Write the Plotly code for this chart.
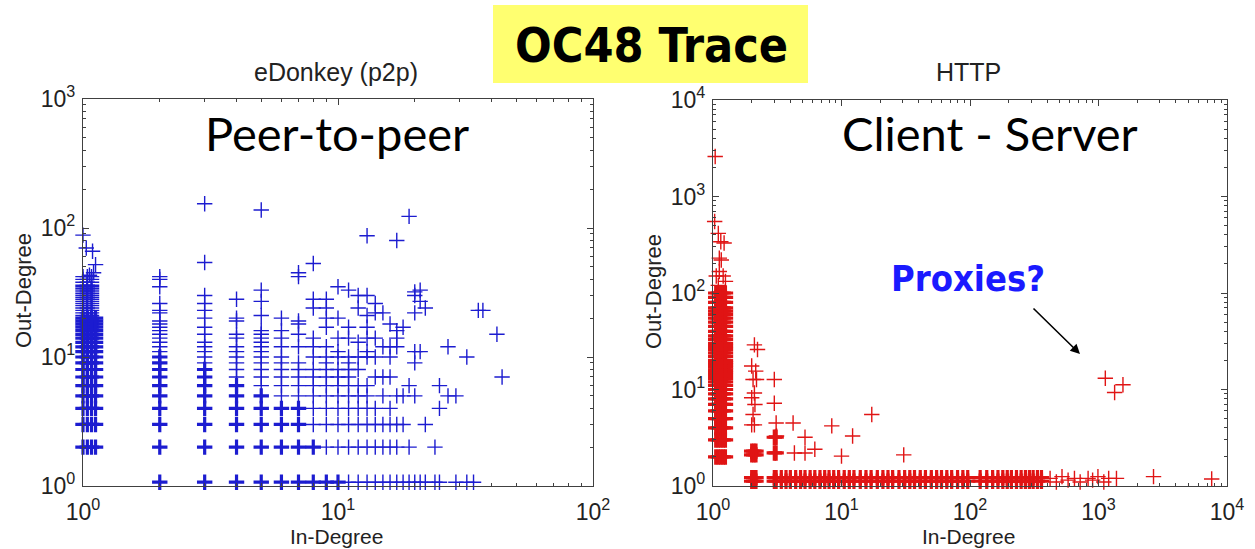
import plotly.graph_objects as go

# ---------------- eDonkey (p2p) : in-degree vs out-degree ----------------
# In-degree 1 column (spread slightly along x in the original plot)
P2P_C1_IN = [1.0, 1.04, 1.08, 1.12]
P2P_C1_OUT_HEAVY = [2, 3, 4, 5, 6, 7, 8, 9, 10, 11, 12, 13, 14, 15, 16, 17, 18, 19, 20]
P2P_C1_OUT_LIGHT = [21, 22, 23, 24, 25, 26, 27, 28, 29, 30, 31, 32, 33, 34, 35,
                    36, 38, 40, 42]
P2P_C1_EXTRA_IN = [1.0, 1.09, 1.12, 1.1, 1.06, 1.03]
P2P_C1_EXTRA_OUT = [88, 66, 52, 45, 43, 70]

# Other in-degree columns
P2P_IN = [2, 3, 4, 5, 6, 7, 8, 9, 10, 11, 12, 13, 14, 15, 16, 17, 18, 19, 20,
          21, 22, 24, 25, 27, 29, 32, 34, 35.5, 37, 42, 44]
P2P_OUT_HEAVY = [
    [1.07, 2, 3, 4, 5, 6, 7, 8, 9, 10],   # 2
    [1.07, 2, 3, 4, 5, 6, 7, 8],          # 3
    [1.07, 2, 3, 4, 5, 6],                # 4
    [1.07, 2, 3, 4, 5],                   # 5
    [1.07, 2, 3, 4],                      # 6
    [1.07, 2, 3, 4],                      # 7
    [1.07, 2],                            # 8
    [1.07], [1.07], [], [], [], [], [], [], [], [], [], [],
    [], [], [], [], [], [], [], [], [], [], [], [],
]
P2P_OUT_LIGHT = [
    [11, 12, 13, 14, 15, 16, 17, 18, 19, 22, 23, 26, 35, 40, 42],  # 2
    [9, 10, 11, 12, 13, 15, 17, 20, 23, 26, 30, 54, 154],         # 3
    [7, 8, 9, 10, 11, 12, 14, 15, 19, 20, 28],                    # 4
    [6, 7, 8, 9, 10, 11, 12, 13, 14, 15, 16, 21, 27, 33, 138],    # 5
    [5, 6, 7, 8, 9, 10, 12, 14, 16, 20],                          # 6
    [5, 6, 7, 8, 9, 12, 15, 18, 19, 42, 45],                      # 7
    [3, 4, 5, 6, 7, 8, 10, 12, 14, 24, 28, 53],                   # 8
    [2, 3, 4, 5, 6, 7, 8, 9, 10, 12, 17, 20, 24, 28],             # 9
    [2, 3, 4, 5, 6, 7, 8, 10, 11, 14, 20, 35],                    # 10
    [1.07, 2, 3, 4, 5, 6, 7, 8, 9, 10, 14, 17, 33],               # 11
    [1.07, 2, 3, 4, 5, 6, 8, 10, 13, 24, 30],                     # 12
    [1.07, 2, 3, 4, 5, 6, 10, 11, 14, 17, 21, 30, 87],            # 13
    [1.07, 2, 3, 4, 7, 10, 14, 22, 26],                           # 14
    [1.07, 2, 3, 5, 7, 12, 22],                                   # 15
    [1.07, 2, 3, 4, 7, 10, 12, 18],                               # 16
    [1.07, 2, 3, 5, 12, 14, 16, 80],                              # 17
    [1.07, 3, 5, 17],                                             # 18
    [1.07, 2, 6, 123],                                            # 19
    [1.07, 5, 9, 11, 22, 30, 32],                                 # 20
    [1.07, 11, 27, 33],                                           # 21
    [1.07, 3, 24],                                                # 22
    [1.07, 2],                                                    # 24
    [1.07, 4, 6],                                                 # 25
    [5, 12],                                                      # 27
    [1.07, 5],                                                    # 29
    [1.07, 10],                                                   # 32
    [1.07],                                                       # 34
    [23],                                                         # 35.5
    [23],                                                         # 37
    [15],                                                         # 42
    [7],                                                          # 44
]

# ---------------- HTTP : in-degree vs out-degree ----------------
HTTP_C1_IN = [1.05, 1.1, 1.15, 1.2, 1.25]
HTTP_C1_OUT_HEAVY = [2, 3, 4, 5, 6, 7, 8, 9, 10, 11, 12, 13, 14, 15, 16, 17, 18,
                     19, 20, 22, 24, 26, 28, 30, 33, 36, 40, 45, 50, 55, 60, 65,
                     70, 80, 90, 100]
HTTP_C1_EXTRA_IN = [1.04, 1.03, 1.1, 1.15, 1.22, 1.12, 1.16, 1.12, 1.25, 1.06, 1.2, 1.1]
HTTP_C1_EXTRA_OUT = [2600, 550, 415, 340, 330, 230, 220, 167, 132, 150, 150, 120]

HTTP_C2_IN = [2.0, 2.08, 2.16]
HTTP_C2_OUT_HEAVY = [1.12, 1.22, 2.1, 2.3]
HTTP_C3_IN = [3.0, 3.1]
HTTP_C3_OUT_HEAVY = [1.12, 1.22, 2.2, 3.2]

HTTP_ROW_IN = [3.4, 3.7, 4, 4.4, 4.8, 5.2, 5.7, 6.2, 6.8, 7.4, 8, 8.7, 9.5,
               10.5, 11.5, 12.5, 14, 15.5, 17, 19, 21, 23, 25, 28, 31, 34, 37,
               41, 45, 50, 55, 60, 66, 72, 80, 88, 96, 120, 135, 150, 165, 180,
               195, 210, 230, 250, 270, 290, 310, 335, 360]
HTTP_ROW_OUT = [1.12, 1.22]

HTTP_LIGHT_IN = [2.0, 2.1, 2.05, 2.12, 2.0, 2.1, 2.05, 2.15, 2.0, 2.22, 2.1, 2.18,
                 3.1, 3.0, 3.0, 3.12,
                 4.2, 4.3, 5.2, 5.2, 6.2, 8.4, 10.0, 12.2, 17.2, 30.5,
                 1130, 1335, 1550,
                 420, 470, 520, 580, 650, 720, 830, 900, 990, 1100, 1200, 1380,
                 2680, 7600]
HTTP_LIGHT_OUT = [4.3, 4.3, 5.5, 7.0, 8.2, 9.2, 12.7, 15.5, 17.5, 26, 29, 12.7,
                  4.5, 7.2, 12.7, 3.3,
                  4.5, 2.2, 3.2, 2.2, 2.4, 4.2, 2.04, 3.3, 5.5, 2.1,
                  13.1, 9.3, 11.2,
                  1.2, 1.1, 1.25, 1.15, 1.2, 1.1, 1.2, 1.15, 1.25, 1.1, 1.2, 1.2,
                  1.25, 1.18]

TICK_P2P_X = [1, 10, 100]
TICK_P2P_X_TEXT = ["10<sup>0</sup>", "10<sup>1</sup>", "10<sup>2</sup>"]
TICK_P2P_Y = [1, 10, 100, 1000]
TICK_P2P_Y_TEXT = ["10<sup>0</sup>", "10<sup>1</sup>", "10<sup>2</sup>", "10<sup>3</sup>"]
TICK_HTTP = [1, 10, 100, 1000, 10000]
TICK_HTTP_TEXT = ["10<sup>0</sup>", "10<sup>1</sup>", "10<sup>2</sup>",
                  "10<sup>3</sup>", "10<sup>4</sup>"]


def expand(xs, ys):
    ox, oy = [], []
    for x in xs:
        for y in ys:
            ox.append(x)
            oy.append(y)
    return ox, oy


def columns(xs, col_lists):
    ox, oy = [], []
    for x, ys in zip(xs, col_lists):
        for y in ys:
            ox.append(x)
            oy.append(y)
    return ox, oy


BLUE = "#1c1cd0"
RED = "#e01414"

# p2p heavy
a_x, a_y = expand(P2P_C1_IN, P2P_C1_OUT_HEAVY)
b_x, b_y = columns(P2P_IN, P2P_OUT_HEAVY)
p2p_hx, p2p_hy = a_x + b_x, a_y + b_y
# p2p light
c_x, c_y = expand(P2P_C1_IN[:3], P2P_C1_OUT_LIGHT)
d_x, d_y = columns(P2P_IN, P2P_OUT_LIGHT)
p2p_lx = c_x + P2P_C1_EXTRA_IN + d_x
p2p_ly = c_y + P2P_C1_EXTRA_OUT + d_y

# http heavy
e_x, e_y = expand(HTTP_C1_IN, HTTP_C1_OUT_HEAVY)
f_x, f_y = expand(HTTP_C2_IN, HTTP_C2_OUT_HEAVY)
g_x, g_y = expand(HTTP_C3_IN, HTTP_C3_OUT_HEAVY)
h_x, h_y = expand(HTTP_ROW_IN, HTTP_ROW_OUT)
http_hx = e_x + f_x + g_x + h_x
http_hy = e_y + f_y + g_y + h_y
http_lx = HTTP_C1_EXTRA_IN + HTTP_LIGHT_IN
http_ly = HTTP_C1_EXTRA_OUT + HTTP_LIGHT_OUT

fig = go.Figure()


def add(xs, ys, color, lw, xa, ya, size=11):
    fig.add_trace(go.Scatter(
        x=xs, y=ys, mode="markers", xaxis=xa, yaxis=ya, cliponaxis=False,
        marker=dict(symbol="cross-thin", size=size, color=color,
                    line=dict(color=color, width=lw)),
        showlegend=False, hoverinfo="skip"))


add(p2p_lx, p2p_ly, BLUE, 1.4, "x", "y")
add(p2p_hx, p2p_hy, BLUE, 3.2, "x", "y")
add(http_lx, http_ly, RED, 1.4, "x2", "y2")
add(http_hx, http_hy, RED, 3.2, "x2", "y2")

W, H = 1255, 549


def px(v):
    return v / W


def py(v):
    return 1 - v / H


def minor_vals(decades):
    return [m * 10 ** k for k in range(decades) for m in range(2, 10)]


AX_COLOR = "#404040"
TICK_FONT = dict(family="Liberation Sans, Arial, sans-serif", size=23, color="#222")
common = dict(type="log", showline=True, linecolor=AX_COLOR, linewidth=1.3,
              mirror="ticks", ticks="inside", ticklen=6, tickcolor=AX_COLOR,
              showgrid=False, zeroline=False, tickfont=TICK_FONT, tickmode="array",
              automargin=False)

fig.update_layout(
    width=W, height=H, margin=dict(l=0, r=0, t=0, b=0),
    paper_bgcolor="white", plot_bgcolor="white",
    xaxis=dict(domain=[px(83), px(593)], range=[0, 2], anchor="y",
               tickvals=TICK_P2P_X, ticktext=TICK_P2P_X_TEXT, ticklabelstandoff=5,
               minor=dict(tickvals=minor_vals(2), ticks="inside", ticklen=3,
                          tickcolor=AX_COLOR), **common),
    yaxis=dict(domain=[py(486), py(99)], range=[0, 3], anchor="x",
               tickvals=TICK_P2P_Y, ticktext=TICK_P2P_Y_TEXT, ticklabelstandoff=2,
               minor=dict(tickvals=minor_vals(3), ticks="inside", ticklen=3,
                          tickcolor=AX_COLOR), **common),
    xaxis2=dict(domain=[px(713), px(1227)], range=[0, 4], anchor="y2",
                tickvals=TICK_HTTP, ticktext=TICK_HTTP_TEXT, ticklabelstandoff=5,
                minor=dict(tickvals=minor_vals(4), ticks="inside", ticklen=3,
                           tickcolor=AX_COLOR), **common),
    yaxis2=dict(domain=[py(486), py(100)], range=[0, 4], anchor="x2",
                tickvals=TICK_HTTP, ticktext=TICK_HTTP_TEXT, ticklabelstandoff=2,
                minor=dict(tickvals=minor_vals(4), ticks="inside", ticklen=3,
                           tickcolor=AX_COLOR), **common),
)

# Title box
fig.add_shape(type="rect", xref="paper", yref="paper",
              x0=px(493), x1=px(808), y0=py(83), y1=py(5),
              fillcolor="#ffff70", line=dict(width=0), layer="below")

LABEL_FONT = dict(family="Liberation Sans, Arial, sans-serif", size=21, color="#222")
BIG_FONT = dict(family="Lato, Calibri, sans-serif", size=47, color="black")

annos = [
    dict(text="<b>OC48 Trace</b>", x=px(651), y=py(45),
         font=dict(family="DejaVu Sans Condensed, DejaVu Sans, sans-serif",
                   size=48, color="black")),
    dict(text="eDonkey (p2p)", x=px(336), y=py(72), font=dict(LABEL_FONT, size=25)),
    dict(text="HTTP", x=px(968), y=py(72), font=dict(LABEL_FONT, size=25)),
    dict(text="Peer-to-peer", x=px(337), y=py(133), font=BIG_FONT),
    dict(text="Client - Server", x=px(990), y=py(133), font=BIG_FONT),
    dict(text="<b>Proxies?</b>", x=px(968), y=py(278),
         font=dict(family="DejaVu Sans Condensed, DejaVu Sans, sans-serif",
                   size=36, color="#1a1aff")),
    dict(text="In-Degree", x=px(337), y=py(536), font=LABEL_FONT),
    dict(text="In-Degree", x=px(968), y=py(536), font=LABEL_FONT),
    dict(text="Out-Degree", x=px(23), y=py(291), font=dict(LABEL_FONT, size=22),
         textangle=-90),
    dict(text="Out-Degree", x=px(653), y=py(292), font=dict(LABEL_FONT, size=22),
         textangle=-90),
]
for a in annos:
    fig.add_annotation(xref="paper", yref="paper", showarrow=False,
                       xanchor="center", yanchor="middle", **a)

fig.add_annotation(xref="paper", yref="paper", axref="pixel", ayref="pixel",
                   x=px(1080), y=py(354), ax=-48, ay=-47, text="",
                   showarrow=True, arrowhead=2, arrowsize=1.2, arrowwidth=1.6,
                   arrowcolor="black")

fig.write_html("out.html")
